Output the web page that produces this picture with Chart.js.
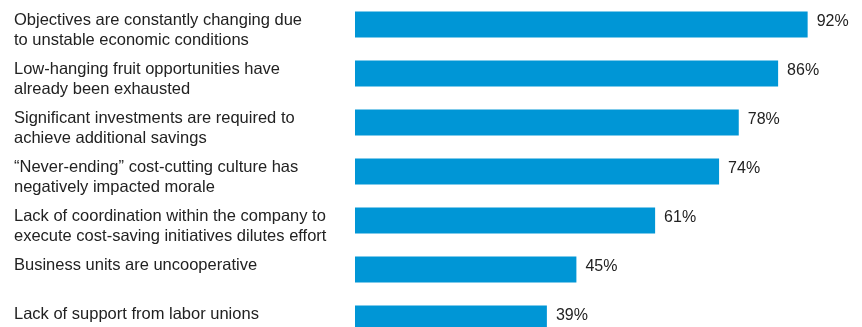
<!DOCTYPE html>
<html>
<head>
<meta charset="utf-8">
<script src="https://cdn.jsdelivr.net/npm/chart.js@4.4.1/dist/chart.umd.min.js"></script>
<style>
    html, body { margin: 0; padding: 0; background: #fff; overflow: hidden; }
    #wrap { width: 862px; height: 343px; }
</style>
</head>
<body>
<div id="wrap"><canvas id="barChart" width="862" height="343"></canvas></div>
<script>
// Survey answers, one entry per bar (two lines each, blank line for short ones)
const reasons = [
    ['Objectives are constantly changing due', 'to unstable economic conditions'],
    ['Low-hanging fruit opportunities have', 'already been exhausted'],
    ['Significant investments are required to', 'achieve additional savings'],
    ['\u201cNever-ending\u201d cost-cutting culture has', 'negatively impacted morale'],
    ['Lack of coordination within the company to', 'execute cost-saving initiatives dilutes effort'],
    ['Business units are uncooperative', ''],
    ['Lack of support from labor unions', '']
];
const shares = [92, 86, 78, 74, 61, 45, 39];

const barColor = '#0096d6';
const textColor = '#222222';
const fontFamily = '"Liberation Sans", Arial, Helvetica, sans-serif';

// prints "NN%" just past the end of each bar
const valueLabels = {
    id: 'valueLabels',
    afterDatasetsDraw(chart) {
        const ctx = chart.ctx;
        const meta = chart.getDatasetMeta(0);
        ctx.save();
        ctx.font = '16px ' + fontFamily;
        ctx.fillStyle = textColor;
        ctx.textAlign = 'left';
        ctx.textBaseline = 'middle';
        meta.data.forEach((bar, i) => {
            ctx.fillText(shares[i] + '%', bar.x + 9, bar.y - 3);
        });
        ctx.restore();
    }
};

new Chart(document.getElementById('barChart'), {
    type: 'bar',
    data: {
        labels: reasons,
        datasets: [{
            data: shares,
            backgroundColor: barColor,
            borderWidth: 0,
            barPercentage: 0.53,
            categoryPercentage: 1
        }]
    },
    options: {
        indexAxis: 'y',
        responsive: false,
        animation: false,
        layout: { padding: { left: 14, right: 15, top: 0, bottom: 0 } },
        plugins: {
            legend: { display: false },
            tooltip: { enabled: false }
        },
        scales: {
            x: {
                display: false,
                min: 0,
                max: 100
            },
            y: {
                grid: { display: false },
                border: { display: false },
                afterFit: (axis) => {
                    // fixed label column; no extra room above/below the bars
                    axis.width = 341;
                    axis.paddingTop = 0;
                    axis.paddingBottom = 0;
                },
                ticks: {
                    crossAlign: 'far',
                    labelOffset: 6,
                    color: textColor,
                    font: { family: fontFamily, size: 16.5, lineHeight: 1.21 }
                }
            }
        }
    },
    plugins: [valueLabels]
});
</script>
</body>
</html>
